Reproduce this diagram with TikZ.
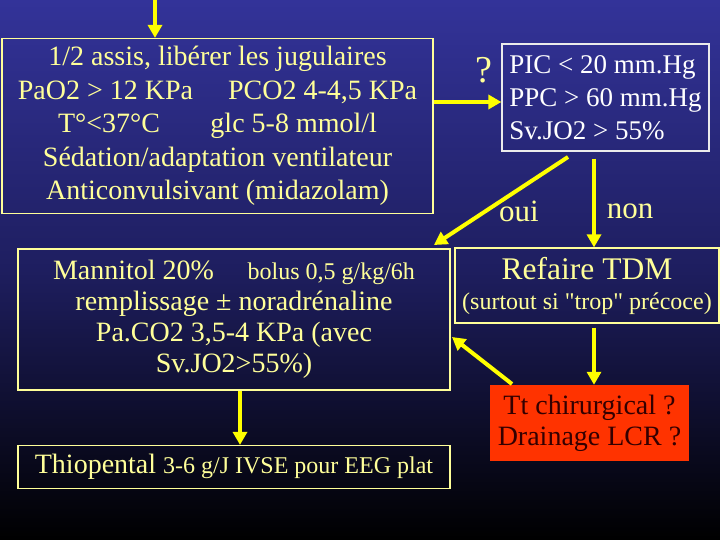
\documentclass[tikz,border=0pt]{standalone}
\usepackage{fontspec}
\setmainfont{Liberation Serif}
\usetikzlibrary{arrows.meta,calc}
\definecolor{bgtop}{RGB}{51,51,153}
\definecolor{bgmid}{RGB}{30,30,95}
\definecolor{paleyel}{RGB}{255,255,153}
\definecolor{arryel}{RGB}{255,255,0}
\definecolor{ttred}{RGB}{255,51,0}
\definecolor{ttdark}{RGB}{51,0,0}
\tikzset{
  arr/.style={draw=arryel, line width=4pt, -{Triangle[width=14pt,length=13pt]}},
  ybox/.style={draw=paleyel, line width=1.2pt, text=paleyel, inner sep=0pt, align=center},
  wbox/.style={draw=white!92!black, line width=1.2pt, text=white, inner sep=0pt},
  lab/.style={text=paleyel, inner sep=0pt},
  big/.style={font=\fontsize{28}{33.5}\selectfont},
}
\newcommand{\sm}{\fontsize{24}{26}\selectfont}
\newcommand{\sq}{\XeTeXglyph\XeTeXcharglyph"0022\relax}
\begin{document}
\begin{tikzpicture}[x=1pt,y=-1pt]
\useasboundingbox (0,0) rectangle (720,540);
\shade[top color=bgtop, bottom color=black, middle color=bgmid] (0,0) rectangle (720,540);

\node[ybox, big, minimum width=431pt, minimum height=175pt] (box1) at (217.5,126)
 {1/2 assis, libérer les jugulaires\\
  PaO2 > 12 KPa\hspace{1.25em}PCO2 4-4,5 KPa\\
  T°<37°C\hspace{1.8em}glc 5-8 mmol/l\\
  Sédation/adaptation ventilateur\\
  Anticonvulsivant (midazolam)};

\node[wbox, minimum width=207pt, minimum height=107pt, align=left, font=\fontsize{27}{33}\selectfont] (pic) at (605.5,97.5)
 {PIC < 20 mm.Hg\\ PPC > 60 mm.Hg\\ Sv.JO2 > 55\%};

\node[lab, font=\fontsize{38}{40}\selectfont] (q) at (484,70) {?};
\node[lab, font=\fontsize{31}{32}\selectfont] (oui) at (519,211) {oui};
\node[lab, font=\fontsize{31}{32}\selectfont] (non) at (630,211) {non};

\node[ybox, minimum width=432pt, minimum height=141pt, font=\fontsize{28}{31}\selectfont] (mann) at (234,319.5)
 {Mannitol 20\%\hspace{1.2em}{\sm bolus 0,5 g/kg/6h}\\
  remplissage ± noradrénaline\\
  Pa.CO2 3,5-4 KPa (avec\\
  Sv.JO2>55\%)};

\node[ybox, minimum width=264pt, minimum height=75pt, font=\fontsize{31.5}{31}\selectfont] (refa) at (587,285.5)
 {Refaire TDM\\[-1pt] {\sm (surtout si \sq trop\sq\ précoce)}};

\node[fill=ttred, text=ttdark, inner sep=0pt, align=center, minimum width=199pt, minimum height=76pt, font=\fontsize{28}{31}\selectfont] (tt) at (589.5,423)
 {Tt chirurgical ?\\ Drainage LCR ?};

\node[ybox, minimum width=432pt, minimum height=43pt, font=\fontsize{28}{28}\selectfont] (thio) at (234,467)
 {Thiopental {\sm 3-6 g/J IVSE pour EEG plat}};

\coordinate (topin) at (155,0);
\coordinate (hy) at (0,102);
\coordinate (ouis) at (568,157);
\coordinate (ouie) at (434,245);
\coordinate (nx) at (594,0);
\coordinate (ttl) at (512,384);
\coordinate (mr) at (452,337);
\coordinate (mx) at (240,0);

\draw[arr] (topin) -- (box1.north -| topin);
\draw[arr] (box1.east |- hy) -- (pic.west |- hy);
\draw[arr] (ouis) -- (ouie);
\draw[arr] (pic.south -| nx) ++(0,7) -- (refa.north -| nx);
\draw[arr] (refa.south -| nx) ++(0,4) -- (tt.north -| nx);
\draw[arr] (ttl) -- (mr);
\draw[arr] (mann.south -| mx) -- (thio.north -| mx);
\end{tikzpicture}
\end{document}
